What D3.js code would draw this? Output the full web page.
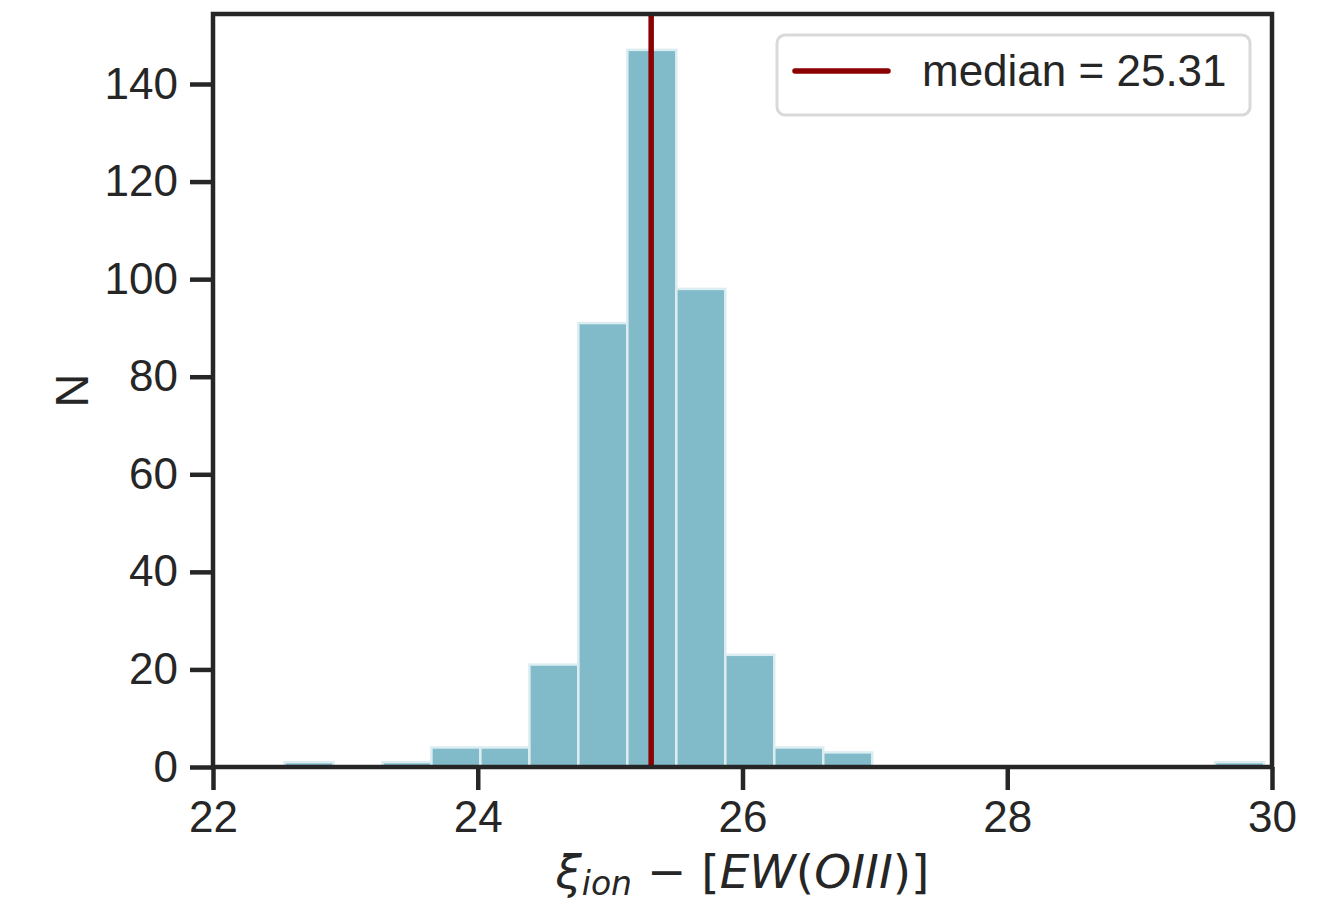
<!DOCTYPE html>
<html>
<head>
<meta charset="utf-8">
<script src="https://d3js.org/d3.v7.min.js"></script>
<style>
  * { margin: 0; padding: 0; }
  html, body { width: 1327px; height: 905px; background: #ffffff; overflow: hidden; }
  svg { display: block; font-family: 'Liberation Sans', Arial, sans-serif; }
</style>
</head>
<body>
<div id="chart"></div>
<script>
// histogram bin edges and counts per bin
const binEdges = [22.54, 22.91, 23.28, 23.65, 24.02, 24.39, 24.76, 25.13, 25.50, 25.87, 26.24,
                  26.61, 26.98, 27.35, 27.72, 28.09, 28.46, 28.83, 29.20, 29.57, 29.94];
const binCounts = [1, 0, 1, 4, 4, 21, 91, 147, 98, 23, 4, 3, 0, 0, 0, 0, 0, 0, 0, 1];
const medianValue = 25.31;
const xTicks = [22, 24, 26, 28, 30];
const yTicks = [0, 20, 40, 60, 80, 100, 120, 140];

const width = 1327, height = 905;
const margin = { top: 14, right: 55, bottom: 138, left: 213 };
const innerW = width - margin.left - margin.right;
const innerH = height - margin.top - margin.bottom;
const dark = '#262626';

const svg = d3.select('#chart').append('svg')
  .attr('width', width)
  .attr('height', height);

const g = svg.append('g').attr('transform', `translate(${margin.left},${margin.top})`);

const x = d3.scaleLinear().domain([22, 30]).range([0, innerW]);
const yMax = d3.max(binCounts) * 1.05;
const y = d3.scaleLinear().domain([0, yMax]).range([innerH, 0]);

const bins = binCounts.map((c, i) => ({ x0: binEdges[i], x1: binEdges[i + 1], count: c }))
  .filter(d => d.count > 0);

// bars
g.selectAll('.bar').data(bins).enter().append('rect')
  .attr('class', 'bar')
  .attr('x', d => x(d.x0))
  .attr('width', d => x(d.x1) - x(d.x0))
  .attr('y', d => y(d.count))
  .attr('height', d => y(0) - y(d.count))
  .attr('fill', '#81bbca')
  .attr('stroke', '#dcedf2')
  .attr('stroke-width', 2.5);

// median line
g.append('line')
  .attr('x1', x(medianValue)).attr('x2', x(medianValue))
  .attr('y1', 0).attr('y2', innerH)
  .attr('stroke', '#8b0000')
  .attr('stroke-width', 5.5);

// axes
const xAxis = g.append('g')
  .attr('transform', `translate(0,${innerH})`)
  .call(d3.axisBottom(x).tickValues(xTicks).tickFormat(d3.format('d')).tickSize(23).tickPadding(11));

const yAxis = g.append('g')
  .call(d3.axisLeft(y).tickValues(yTicks).tickFormat(d3.format('d')).tickSize(23).tickPadding(12));

[xAxis, yAxis].forEach(ax => {
  ax.select('.domain').remove();
  ax.selectAll('.tick line').attr('stroke', dark).attr('stroke-width', 4.5);
  ax.selectAll('.tick text').attr('fill', dark).attr('font-size', 44)
    .attr('font-family', "'Liberation Sans', Arial, sans-serif");
});

// frame
g.append('rect')
  .attr('x', 0).attr('y', 0)
  .attr('width', innerW).attr('height', innerH)
  .attr('fill', 'none')
  .attr('stroke', dark)
  .attr('stroke-width', 4.5);

// legend
const legend = g.append('g').attr('transform', `translate(${innerW - 495},21)`);
legend.append('rect')
  .attr('x', 0).attr('y', 0)
  .attr('width', 473).attr('height', 80)
  .attr('rx', 8)
  .attr('fill', 'rgba(255,255,255,0.8)')
  .attr('stroke', '#d9d9d9')
  .attr('stroke-width', 3);
legend.append('line')
  .attr('x1', 18).attr('x2', 111)
  .attr('y1', 36).attr('y2', 36)
  .attr('stroke', '#8b0000')
  .attr('stroke-width', 5.5)
  .attr('stroke-linecap', 'round');
legend.append('text')
  .attr('x', 145).attr('y', 36)
  .attr('dy', '0.35em')
  .attr('font-size', 44)
  .attr('fill', dark)
  .text('median = ' + medianValue.toFixed(2));

// axis labels
const xLabel = svg.append('text')
  .attr('x', margin.left + innerW / 2)
  .attr('y', 888)
  .attr('text-anchor', 'middle')
  .attr('font-family', "'DejaVu Sans', sans-serif")
  .attr('font-size', 47)
  .attr('fill', dark);
xLabel.append('tspan').attr('font-style', 'italic').text('ξ');
xLabel.append('tspan').attr('font-style', 'italic').attr('font-size', 33).attr('dy', 7).text('ion');
xLabel.append('tspan').attr('dy', -7).text(' − [');
xLabel.append('tspan').attr('font-style', 'italic').text('EW');
xLabel.append('tspan').text('(');
xLabel.append('tspan').attr('font-style', 'italic').text('OIII');
xLabel.append('tspan').text(')]');

svg.append('text')
  .attr('transform', `translate(88,${margin.top + innerH / 2}) rotate(-90)`)
  .attr('text-anchor', 'middle')
  .attr('font-size', 47)
  .attr('fill', dark)
  .text('N');
</script>
</body>
</html>
